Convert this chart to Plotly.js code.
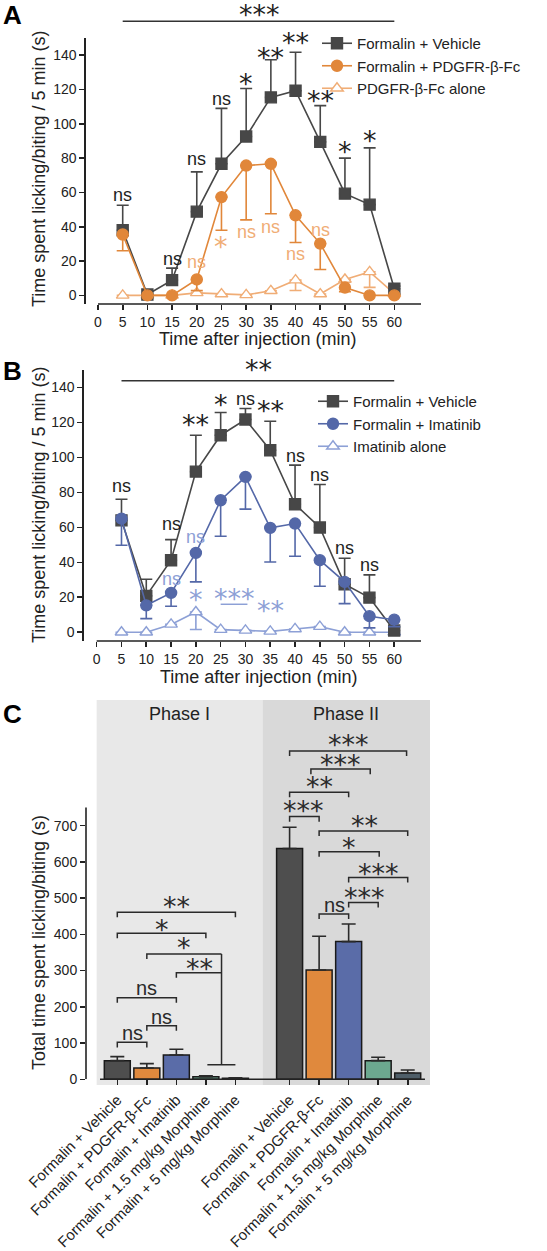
<!DOCTYPE html>
<html>
<head>
<meta charset="utf-8">
<script src="https://cdn.plot.ly/plotly-3.0.1.min.js"></script>
<style>
html,body{margin:0;padding:0;background:#fff;}
#chart{width:547px;height:1251px;}
</style>
</head>
<body>
<div id="chart"></div>
<script>
// ================= DATA =================
const timeMin   = [5, 10, 15, 20, 25, 30, 35, 40, 45, 50, 55, 60];
const timeTicks = [0, 5, 10, 15, 20, 25, 30, 35, 40, 45, 50, 55, 60];
const yTicksTime  = [0, 20, 40, 60, 80, 100, 120, 140];
const yTicksTotal = [0, 100, 200, 300, 400, 500, 600, 700];

// Panel A (mean and SEM, s)
const seriesA     = ['Formalin + Vehicle', 'Formalin + PDGFR-β-Fc', 'PDGFR-β-Fc alone'];
const aVehicle    = [38, 0.5, 8.9, 48.8, 76.7, 92.6, 115.4, 119.3, 89.5, 59.3, 52.9, 3.9];
const aVehicleSem = [14.5, 0, 7, 23.2, 32.3, 28, 21.9, 22.4, 21.1, 20.7, 33.1, 1.5];
const aPdgfr      = [35.5, 0, 0, 9.3, 57.3, 75.7, 76.7, 46.7, 30.2, 4.6, 0, 0];
const aPdgfrSem   = [9.5, 0, 0, 6.5, 19.3, 31.7, 29.1, 15.9, 15.1, 2.5, 0, 0];
const aAlone      = [0, 0, 0, 1.5, 0.8, 0.3, 2.7, 8.9, 0.8, 9.3, 13.7, 1];
const aAloneSem   = [0, 0, 0, 0, 0, 0, 0, 6, 0, 0, 9, 0];

// Panel B
const seriesB      = ['Formalin + Vehicle', 'Formalin + Imatinib', 'Imatinib alone'];
const bVehicle     = [64, 20.8, 41.2, 91.9, 112.7, 121.7, 104.1, 73.2, 59.9, 27.5, 19.8, 1];
const bVehicleSem  = [12.1, 9.5, 11.8, 20.8, 13, 6.3, 16.6, 22.4, 24.6, 14.8, 13, 2];
const bImatinib    = [65, 15.4, 22.5, 45.4, 75.5, 88.9, 59.7, 62.2, 41.2, 28.8, 9.2, 7.2];
const bImatinibSem = [15.2, 7.6, 7.6, 16.6, 20.6, 18.5, 19.5, 18.7, 14.9, 12.4, 6.7, 4];
const bAlone       = [0, 0, 4.5, 11.6, 1.5, 1.1, 0.5, 1.9, 3.2, 0, 0, 0];
const bAloneSem    = [0, 0, 0, 10, 0, 0, 0, 0, 0, 0, 0, 0];

// Panel C
const phases      = ['Phase I', 'Phase II'];
const treatments  = ['Formalin + Vehicle', 'Formalin + PDGFR-β-Fc', 'Formalin + Imatinib',
                     'Formalin + 1.5 mg/kg Morphine', 'Formalin + 5 mg/kg Morphine'];
const phase1Total = [51.5, 31.3, 67.2, 7, 3];
const phase1Sem   = [11, 12, 15.6, 3, 1];
const phase2Total = [636.6, 301.7, 380, 51.5, 17.5];
const phase2Sem   = [59, 93, 48.7, 9.2, 8.3];

// Significance labels: [label, time / group position, height]
const sigAVehicle = [['ns',5,58.3],['ns',15,21.5],['ns',20,79.6],['ns',25,114.4],['*',30,125],
                     ['**',35,140.6],['**',40,149],['**',45,115.4],['*',50,85.4],['*',55,92.2]];
const sigADrug    = [['ns',20,19.6],['*',25,30.2],['ns',30,37],['ns',35,40],['ns',40,24],['ns',45,38.3]];
const sigBVehicle = [['ns',5,83.7],['ns',15,62.2],['**',20,120.4],['*',25,131.8],['ns',30,133.7],
                     ['**',35,128.6],['ns',40,100.7],['ns',45,89.8],['ns',50,48.4],['ns',55,38.7]];
const sigBDrug    = [['ns',15,30.7],['ns',20,54.5],['*',20,20.2],['***',27.7,21.2],['**',35,13.9]];

// ================= STYLE / LAYOUT =================
const FONT = 'Arial, "Liberation Sans", Helvetica, sans-serif';
const STARFONT = '"DejaVu Sans", sans-serif';
const W = 547, H = 1251;
const px = v => v / W;
const py = v => 1 - v / H;
const INK = '#222';

const colVehicle = '#474747';
const colPdgfr = '#e1873a';
const colPdgfrLight = '#f0ad76';
const colIma = '#5468a8';
const colImaLight = '#8da0d6';
const barColors = ['#4e4e4e', '#e0893d', '#5a6ca8', '#6ca88f', '#4f5e68'];

const zeros = n => new Array(n).fill(0);

function lineTrace(name, y, sem, up, color, symbol, xa, ya, legend, rank, fill) {
  return {
    type: 'scatter', mode: 'lines+markers', name, x: timeMin, y,
    xaxis: xa, yaxis: ya, legend, legendrank: rank,
    line: {color, width: 1.6},
    marker: {symbol, size: 11, color: fill || color, line: {color, width: 1.4}},
    error_y: {type: 'data', symmetric: false,
      array: up ? sem : zeros(sem.length), arrayminus: up ? zeros(sem.length) : sem,
      color, thickness: 1.6, width: 6},
    cliponaxis: false
  };
}

const nT = treatments.length;
const groupGap = 0.835;
const pos = (phase, i) => phase * (nT + groupGap) + i;
const pos1 = treatments.map((_, i) => pos(0, i));
const pos2 = treatments.map((_, i) => pos(1, i));

const traces = [
  lineTrace(seriesA[2], aAlone, aAloneSem, false, colPdgfrLight, 'triangle-up', 'x', 'y', 'legend', 3, '#ffffff'),
  lineTrace(seriesA[0], aVehicle, aVehicleSem, true, colVehicle, 'square', 'x', 'y', 'legend', 1),
  lineTrace(seriesA[1], aPdgfr, aPdgfrSem, false, colPdgfr, 'circle', 'x', 'y', 'legend', 2),
  lineTrace(seriesB[2], bAlone, bAloneSem, false, colImaLight, 'triangle-up', 'x2', 'y2', 'legend2', 3, '#ffffff'),
  lineTrace(seriesB[0], bVehicle, bVehicleSem, true, colVehicle, 'square', 'x2', 'y2', 'legend2', 1),
  lineTrace(seriesB[1], bImatinib, bImatinibSem, false, colIma, 'circle', 'x2', 'y2', 'legend2', 2),
];

[[pos1, phase1Total, phase1Sem, phases[0]], [pos2, phase2Total, phase2Sem, phases[1]]].forEach(([xs, ys, es, nm]) => {
  traces.push({
    type: 'bar', name: nm, x: xs, y: ys, xaxis: 'x3', yaxis: 'y3', width: 0.88, showlegend: false,
    marker: {color: barColors, line: {color: '#1a1a1a', width: 1.5}},
    error_y: {type: 'data', symmetric: false, array: es, arrayminus: zeros(es.length),
      color: '#2a2a2a', thickness: 1.6, width: 7}
  });
});

const tickFont = {family: FONT, size: 14, color: INK};
const axBase = {showgrid: false, zeroline: false, ticks: 'outside', ticklen: 5, tickwidth: 1.6,
  tickcolor: INK, linecolor: INK, linewidth: 1.6, tickfont: tickFont, fixedrange: true};

const rangeXA = [-2.43, 65.4], rangeXB = [-2.56, 65.4], rangeXC = [-1.06, 10.59];

const layout = {
  width: W, height: H, margin: {l: 0, r: 0, t: 0, b: 0},
  paper_bgcolor: '#fff', plot_bgcolor: 'rgba(0,0,0,0)',
  font: {family: FONT, color: INK},
  xaxis:  Object.assign({}, axBase, {domain: [px(86), px(421)], range: rangeXA, anchor: 'y',
            tickmode: 'array', tickvals: timeTicks, showline: false}),
  yaxis:  Object.assign({}, axBase, {domain: [py(304), py(38)], range: [-5, 150], anchor: 'x',
            tickmode: 'array', tickvals: yTicksTime, showline: true}),
  xaxis2: Object.assign({}, axBase, {domain: [px(84), px(421)], range: rangeXB, anchor: 'y2',
            tickmode: 'array', tickvals: timeTicks, showline: false}),
  yaxis2: Object.assign({}, axBase, {domain: [py(641), py(370)], range: [-5, 150], anchor: 'x2',
            tickmode: 'array', tickvals: yTicksTime, showline: true}),
  xaxis3: Object.assign({}, axBase, {domain: [px(86), px(430)], range: rangeXC, anchor: 'y3',
            tickmode: 'array', tickvals: pos1.concat(pos2), ticktext: treatments.concat(treatments),
            tickangle: -45, showline: false, tickfont: {family: FONT, size: 15, color: INK}}),
  yaxis3: Object.assign({}, axBase, {domain: [py(1079.3), py(700)], range: [0, 1046.6], anchor: 'x3',
            tickmode: 'array', tickvals: yTicksTotal, showline: false}),
  legend:  {x: px(317), y: py(27), xanchor: 'left', yanchor: 'top', bgcolor: 'rgba(0,0,0,0)',
            font: {family: FONT, size: 15, color: INK}, itemwidth: 30, tracegroupgap: 0},
  legend2: {x: px(313), y: py(385), xanchor: 'left', yanchor: 'top', bgcolor: 'rgba(0,0,0,0)',
            font: {family: FONT, size: 15, color: INK}, itemwidth: 30, tracegroupgap: 0},
  shapes: [], annotations: []
};

const S = layout.shapes, A = layout.annotations;

// axis lines drawn as separate strokes (offset axes style)
S.push({type: 'line', xref: 'x', yref: 'paper', x0: 0, x1: rangeXA[1], y0: py(304), y1: py(304), line: {color: INK, width: 1.6}});
S.push({type: 'line', xref: 'x2', yref: 'paper', x0: 0, x1: rangeXB[1], y0: py(641), y1: py(641), line: {color: INK, width: 1.6}});
S.push({type: 'line', xref: 'x3', yref: 'paper', x0: -0.586, x1: 10.42, y0: py(1079.3), y1: py(1079.3), line: {color: INK, width: 1.6}});
S.push({type: 'line', xref: 'paper', yref: 'y3', x0: px(86), x1: px(86), y0: 0, y1: 750, line: {color: INK, width: 1.6}});

// phase backgrounds
const phaseSplit = (pos(0, nT - 1) + pos(1, 0)) / 2;
const bgBounds = [[-0.70, phaseSplit], [phaseSplit, rangeXC[1]]];
const bgColors = ['#e8e8e8', '#d9d9d9'];
bgBounds.forEach((b, k) => {
  S.push({type: 'rect', layer: 'below', xref: 'x3', yref: 'paper', x0: b[0], x1: b[1],
    y0: py(1085), y1: py(700), fillcolor: bgColors[k], line: {width: 0}});
  A.push({text: phases[k], xref: 'x3', yref: 'paper', x: (b[0] + b[1]) / 2, y: py(714),
    showarrow: false, xanchor: 'center', yanchor: 'middle', font: {family: FONT, size: 18, color: INK}});
});

function sig(text, x, y, xref, yref, color, nsSize) {
  const star = text.indexOf('*') >= 0;
  return {text, x, y, xref, yref, showarrow: false, xanchor: 'center', yanchor: 'middle',
    font: {family: star ? STARFONT : FONT, size: star ? 27 : (nsSize || 18), color}, yshift: star ? -3 : 0};
}

sigAVehicle.forEach(s => A.push(sig(s[0], s[1], s[2], 'x', 'y', '#1e1e1e')));
sigADrug.forEach(s => A.push(sig(s[0], s[1], s[2], 'x', 'y', colPdgfrLight)));
sigBVehicle.forEach(s => A.push(sig(s[0], s[1], s[2], 'x2', 'y2', '#1e1e1e')));
sigBDrug.forEach(s => A.push(sig(s[0], s[1], s[2], 'x2', 'y2', colImaLight)));

// overall significance bars over A and B
S.push({type: 'line', xref: 'x', yref: 'paper', x0: 5, x1: 60, y0: py(21.3), y1: py(21.3), line: {color: '#333', width: 1.5}});
A.push(sig('***', 32.7, py(11.5), 'x', 'paper', '#1e1e1e'));
S.push({type: 'line', xref: 'x2', yref: 'y2', x0: 5, x1: 60, y0: 143.8, y1: 143.8, line: {color: '#333', width: 1.5}});
A.push(sig('**', 32.6, py(366.7), 'x2', 'paper', '#1e1e1e'));
// underline for imatinib-alone group comparison
S.push({type: 'line', xref: 'x2', yref: 'y2', x0: 25, x1: 30.4, y0: 16, y1: 16, line: {color: colImaLight, width: 1.5}});

// Panel C brackets: [x0, x1, y, leftDrop, rightDrop, label, labelX, labelY]
const DROP = 14;
const p1 = i => pos(0, i), p2 = i => pos(1, i);
const stemX = 3.53;
const bracketsC = [
  [p1(0), p1(1), 102, true, true, 'ns', 0.5, 127],
  [p1(1), p1(2), 148, true, true, 'ns', 1.5, 173],
  [p1(0), p1(2), 225, true, true, 'ns', 1.0, 251],
  [p1(1), stemX, 346, true, false, '*', 2.27, 371],
  [p1(2), stemX, 294, true, false, '**', 2.77, 313],
  [p1(0), p1(3), 403, true, true, '*', 1.52, 423],
  [p1(0), p1(4), 461, true, true, '**', 2.0, 486],
  [p2(0), p2(1), 725, true, true, '***', 6.32, 750],
  [p2(0), p2(2), 792, true, true, '**', 6.84, 817],
  [6.557, 8.566, 856, true, true, '***', 7.56, 877],
  [p2(0), 9.797, 906, true, true, '***', 7.82, 932],
  [p2(1), p2(4), 685, true, true, '**', 8.36, 708],
  [p2(1), 8.87, 628, true, true, '*', 7.855, 647],
  [p2(2), p2(4), 557, true, true, '***', 8.86, 577],
  [p2(2), p2(3), 488, true, true, '***', 8.36, 509],
  [p2(1), p2(2), 456, true, true, 'ns', 7.35, 481]
];
bracketsC.forEach(b => {
  const [x0, x1, y, dl, dr, lab, lx, ly] = b;
  const path = `M${x0},${dl ? y - DROP : y} L${x0},${y} L${x1},${y} L${x1},${dr ? y - DROP : y}`;
  S.push({type: 'path', xref: 'x3', yref: 'y3', path, line: {color: '#2a2a2a', width: 1.5}});
  A.push(sig(lab, lx, ly, 'x3', 'y3', '#2a2a2a', 20));
});
// stem joining the two morphine groups
S.push({type: 'path', xref: 'x3', yref: 'y3', path: `M${stemX},346 L${stemX},40 M3.05,40 L${p1(4)},40`,
  line: {color: '#2a2a2a', width: 1.5}});

// axis titles
const titleFont = {family: FONT, size: 18, color: INK};
A.push({text: 'Time spent licking/biting / 5 min (s)', xref: 'paper', yref: 'paper', x: px(39), y: py(169),
  textangle: -90, showarrow: false, xanchor: 'center', yanchor: 'middle', font: titleFont});
A.push({text: 'Time after injection (min)', xref: 'paper', yref: 'paper', x: px(257.5), y: py(339),
  showarrow: false, xanchor: 'center', yanchor: 'middle', font: titleFont});
A.push({text: 'Time spent licking/biting / 5 min (s)', xref: 'paper', yref: 'paper', x: px(39), y: py(505),
  textangle: -90, showarrow: false, xanchor: 'center', yanchor: 'middle', font: titleFont});
A.push({text: 'Time after injection (min)', xref: 'paper', yref: 'paper', x: px(258), y: py(677),
  showarrow: false, xanchor: 'center', yanchor: 'middle', font: titleFont});
A.push({text: 'Total time spent licking/biting (s)', xref: 'paper', yref: 'paper', x: px(39), y: py(943),
  textangle: -90, showarrow: false, xanchor: 'center', yanchor: 'middle', font: titleFont});

// panel letters
[['A', 15], ['B', 371], ['C', 714]].forEach(([t, yy]) => {
  A.push({text: '<b>' + t + '</b>', xref: 'paper', yref: 'paper', x: px(12), y: py(yy),
    showarrow: false, xanchor: 'center', yanchor: 'middle', font: {family: FONT, size: 26, color: '#000'}});
});

Plotly.newPlot('chart', traces, layout, {displayModeBar: false, staticPlot: true});
</script>
</body>
</html>
